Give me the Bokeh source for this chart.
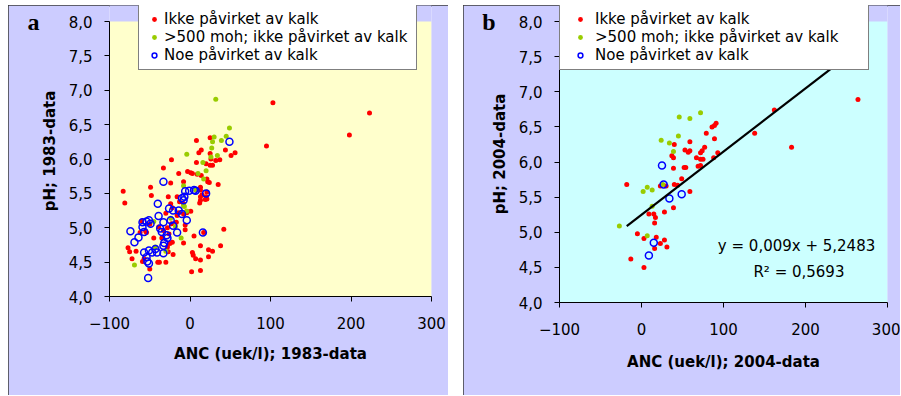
from bokeh.plotting import figure
from bokeh.layouts import row
from bokeh.models import (Legend, LegendItem, Label, FixedTicker, LinearAxis,
                          CustomJSTickFormatter)
from bokeh.embed import file_html
from bokeh.resources import INLINE

# ---------------- data ----------------
x_ticks = [-100, 0, 100, 200, 300]
y_ticks = [4.0, 4.5, 5.0, 5.5, 6.0, 6.5, 7.0, 7.5, 8.0]
x_lim = (-100, 300)
y_lim = (4.0, 8.0)
series_names = ["Ikke påvirket av kalk", ">500 moh; ikke påvirket av kalk",
                "Noe påvirket av kalk"]

# panel a (1983)
a_red_x = [103, 223, 198, 95, -83, -81, 8, 25, 14, 11, 44, 56, 51, 25, -23, 8, 26, 32, 37, 20,
           25, 28, -33, -14, -3, 1, 3, 14, -8, 21, 24, 35, -24, -49, 13, 15, -48, -27, -16, 21,
           13, 12, 19, -13, -24, -8, -60, -55, -77, -75, -72, -67, -57, -59, -50, -38, -30, -27,
           -28, -21, -35, -26, -22, -8, -6, 5, 3, 4, 7, 2, 13, 13, 13, 23, 28, 23, 38, 42, -17,
           -23, -50, -39, -16, -8, -4, -62, -54, -45, -25, -33, -28, -6, 1, 17, -40, -4, -22, -14,
           -30, 9, 13, 22, 13, 20, 21]
a_red_y = [6.82, 6.67, 6.35, 6.19, 5.53, 5.36, 6.27, 6.31, 6.13, 6.09, 6.13, 6.09, 6.05, 6.08,
           5.99, 5.95, 6.00, 5.98, 5.99, 5.93, 5.91, 5.91, 5.87, 5.79, 5.82, 5.80, 5.79, 5.76,
           5.67, 5.71, 5.66, 5.63, 5.65, 5.59, 5.55, 5.48, 5.47, 5.45, 5.45, 5.42, 5.40, 5.36,
           5.41, 5.38, 5.35, 5.35, 5.10, 4.95, 4.71, 4.65, 4.55, 4.66, 4.55, 4.51, 4.40, 4.50,
           4.50, 4.65, 4.72, 4.61, 4.85, 4.91, 4.79, 4.78, 4.97, 4.88, 4.64, 4.60, 4.55, 4.36,
           4.38, 4.53, 4.74, 4.68, 4.66, 4.58, 4.74, 4.98, 5.08, 5.06, 5.05, 5.01, 5.18, 5.20,
           5.24, 4.93, 4.93, 4.85, 4.77, 4.96, 5.00, 5.04, 5.24, 4.93, 4.50, 5.22, 5.29, 5.22,
           5.21, 5.78, 5.59, 5.67, 5.45, 5.45, 5.52]
a_green_x = [32, 49, 30, 45, 39, 28, 27, -4, 34, 26, 16, 20, 10, 17, -8, 7, -69, -11, -8, -7,
             -24, -43, -45, -30, -4, -18]
a_green_y = [6.87, 6.45, 6.32, 6.33, 6.27, 6.25, 6.16, 6.07, 6.05, 6.03, 5.95, 5.83, 5.79,
             5.71, 5.61, 5.55, 4.46, 4.85, 5.32, 5.31, 5.14, 4.72, 5.09, 4.66, 5.24, 5.02]
a_blue_x = [49, -33, 20, -6, -1, 5, -10, -52, -74, -69, -64, -59, -54, -51, -49, -39, -40, -26,
            -21, -14, -10, -4, -8, -37, -35, -29, -28, -32, -33, -16, 16, -51, -47, -41, -33,
            -54, -53, -51, -43, -24, -21, -33, -59, -57, -57, -7, 7]
a_blue_y = [6.25, 5.67, 5.50, 5.53, 5.54, 5.55, 5.43, 4.27, 4.95, 4.79, 4.86, 5.08, 5.09, 5.11,
            5.06, 5.17, 5.35, 5.28, 5.25, 5.25, 5.20, 5.11, 5.40, 4.99, 4.94, 4.89, 4.85, 4.78,
            4.74, 4.93, 4.93, 4.67, 4.64, 4.64, 4.63, 4.57, 4.51, 4.48, 4.69, 5.11, 5.03, 5.08,
            5.01, 4.64, 4.94, 5.45, 5.54]

# panel b (2004)
b_red_x = [-18, 264, 162, 138, 183, 40, 59, 53, 57, 59, 37, 39, 39, 52, 54, 86, 89, 91, 79, 89,
           77, 74, 72, 67, 72, 75, 69, 72, 88, 93, 49, 40, 44, 30, 23, 59, 9, 15, 17, 16, 28,
           39, -5, 3, 18, 28, 23, 31, 16, -13, 3]
b_red_y = [5.68, 6.89, 6.74, 6.41, 6.21, 6.25, 6.29, 6.17, 6.14, 6.16, 6.09, 6.06, 5.91, 5.92,
           5.92, 6.50, 6.52, 6.55, 6.41, 6.33, 6.21, 6.16, 6.13, 6.06, 6.04, 6.04, 5.94, 5.95,
           6.06, 6.13, 5.76, 5.68, 5.67, 5.66, 5.66, 5.58, 5.26, 5.26, 5.21, 5.13, 5.29, 5.35,
           4.98, 4.91, 4.93, 4.89, 4.84, 4.79, 4.77, 4.62, 4.50]
b_green_x = [72, 46, 59, 45, 24, 34, 39, 2, 7, 13, 26, 13, -27, 7]
b_green_y = [6.70, 6.64, 6.62, 6.37, 6.31, 6.27, 6.15, 5.58, 5.64, 5.60, 5.68, 5.37, 5.09, 4.95]
b_blue_x = [25, 27, 34, 49, 15, 9]
b_blue_y = [5.95, 5.68, 5.48, 5.54, 4.85, 4.67]

# regression shown in panel b
b_slope = 0.009
b_intercept = 5.2483
b_r2 = "0,5693"
b_fit_x = [-18, 263]
b_fit_y = [b_slope * v + b_intercept for v in b_fit_x]

# ---------------- styling ----------------
FONT = "DejaVu Sans"
OUTER = "#CCCCFF"
RED = "#FF0000"
GREEN = "#99CC00"
BLUE = "#0000FF"


def make_panel(width, height, borders, frame_h, plot_bg, xlab, ylab, letter,
               red, green, blue, std):
    left, right, top, bottom = borders
    # the frame reaches up to the top of the panel so the legend box fits inside it;
    # the coloured plot area itself spans exactly the axis limits
    px_per_unit = frame_h / (y_lim[1] - y_lim[0])
    y_top = y_lim[1] + (top) / px_per_unit
    p = figure(width=width, height=height, output_backend="svg", toolbar_location=None,
               x_range=x_lim, y_range=(y_lim[0], y_top),
               min_border_left=left, min_border_right=right, min_border_top=0,
               min_border_bottom=bottom,
               background_fill_color=OUTER, border_fill_color=OUTER,
               outline_line_color=None,
               styles={"outline": "2px solid #3a3a3a", "outline-offset": "-2px"})
    try:
        p.frame_align = False
    except Exception:
        pass
    p.quad(left=[x_lim[0]], right=[x_lim[1]], bottom=[y_lim[0]], top=[y_lim[1]],
           fill_color=plot_bg, line_color=None, level="underlay")
    p.xgrid.visible = False
    p.ygrid.visible = False
    for ax in (p.xaxis[0], p.yaxis[0]):
        ax.axis_line_color = "black"
        ax.major_tick_line_color = "black"
        ax.major_tick_out = 5
        ax.major_tick_in = 0
        ax.minor_tick_line_color = None
        ax.major_label_text_font = FONT
        ax.major_label_text_font_size = "15px"
        ax.major_label_text_color = "black"
        ax.axis_label_text_font = FONT
        ax.axis_label_text_font_size = "15px"
        ax.axis_label_text_font_style = "bold"
        ax.axis_label_text_color = "black"
    p.xaxis.ticker = FixedTicker(ticks=x_ticks)
    p.yaxis.ticker = FixedTicker(ticks=y_ticks)
    p.yaxis.bounds = y_lim
    p.yaxis.formatter = CustomJSTickFormatter(code="return tick.toFixed(1).replace('.', ',');")
    p.xaxis.axis_label = xlab
    p.yaxis.axis_label = ylab
    p.xaxis.major_label_standoff = std[0]
    p.xaxis.axis_label_standoff = std[1]
    p.yaxis.major_label_standoff = std[2]
    p.yaxis.axis_label_standoff = std[3]

    # panel letter drawn as an extra (line-less) left axis with one labelled tick
    lax = LinearAxis(ticker=FixedTicker(ticks=[y_lim[1]]),
                     formatter=CustomJSTickFormatter(code="return '%s';" % letter),
                     axis_line_color=None, major_tick_line_color=None,
                     minor_tick_line_color=None, major_label_standoff=std[4],
                     major_label_text_font="Liberation Serif",
                     major_label_text_font_style="bold",
                     major_label_text_font_size="24px", major_label_text_color="black")
    p.add_layout(lax, "left")

    r1 = p.scatter(red[0], red[1], size=5, fill_color=RED, line_color=None)
    r2 = p.scatter(green[0], green[1], size=5, fill_color=GREEN, line_color=None)
    r3 = p.scatter(blue[0], blue[1], size=7, fill_color=None, line_color=BLUE, line_width=1.5)
    return p, (r1, r2, r3)


def add_legend(p, rends, loc, glyph_w, label_w):
    items = [LegendItem(label=n, renderers=[r]) for n, r in zip(series_names, rends)]
    lg = Legend(items=items, location=loc, padding=5, spacing=0, margin=0,
                glyph_width=glyph_w, glyph_height=12, label_height=18,
                label_standoff=0, label_width=label_w,
                label_text_font=FONT, label_text_font_size="15px",
                label_text_color="black",
                border_line_color="black", border_line_width=1,
                background_fill_color="white", background_fill_alpha=1.0)
    p.add_layout(lg)


# panel a: canvas x 8..448, frame 109..431 (x), 21..296 (y)
pa, ra = make_panel(440, 390, (101, 17, 16, 99), 275, "#FFFFCC",
                    "ANC (uek/l); 1983-data", "pH; 1983-data", "a",
                    (a_red_x, a_red_y), (a_green_x, a_green_y), (a_blue_x, a_blue_y),
                    (15, 13, 12, 7, -8))
add_legend(pa, ra, (29, 226), 20, 247)

# panel b: canvas x 463..900, frame 559..887 (x), 21..302 (y)
pb, rb = make_panel(437, 390, (96, 13, 16, 93), 281, "#CCFFFF",
                    "ANC (uek/l); 2004-data", "pH; 2004-data", "b",
                    (b_red_x, b_red_y), (b_green_x, b_green_y), (b_blue_x, b_blue_y),
                    (15, 15, 12, 7, -14))
pb.line(b_fit_x, b_fit_y, line_color="black", line_width=2.2)
add_legend(pb, rb, (0, 232), 30, 268)

pb.add_layout(Label(x=192, y=4.81, text="y = 0,009x  + 5,2483", text_font=FONT,
                    text_font_size="15px", text_color="black",
                    text_align="center", text_baseline="middle"))
pb.add_layout(Label(x=192, y=4.44, text="R² = " + b_r2, text_font=FONT,
                    text_font_size="15px", text_color="black",
                    text_align="center", text_baseline="middle"))

layout = row(pa, pb, spacing=15, margin=(5, 0, 0, 8))
open("out.html", "w").write(file_html(layout, INLINE))
